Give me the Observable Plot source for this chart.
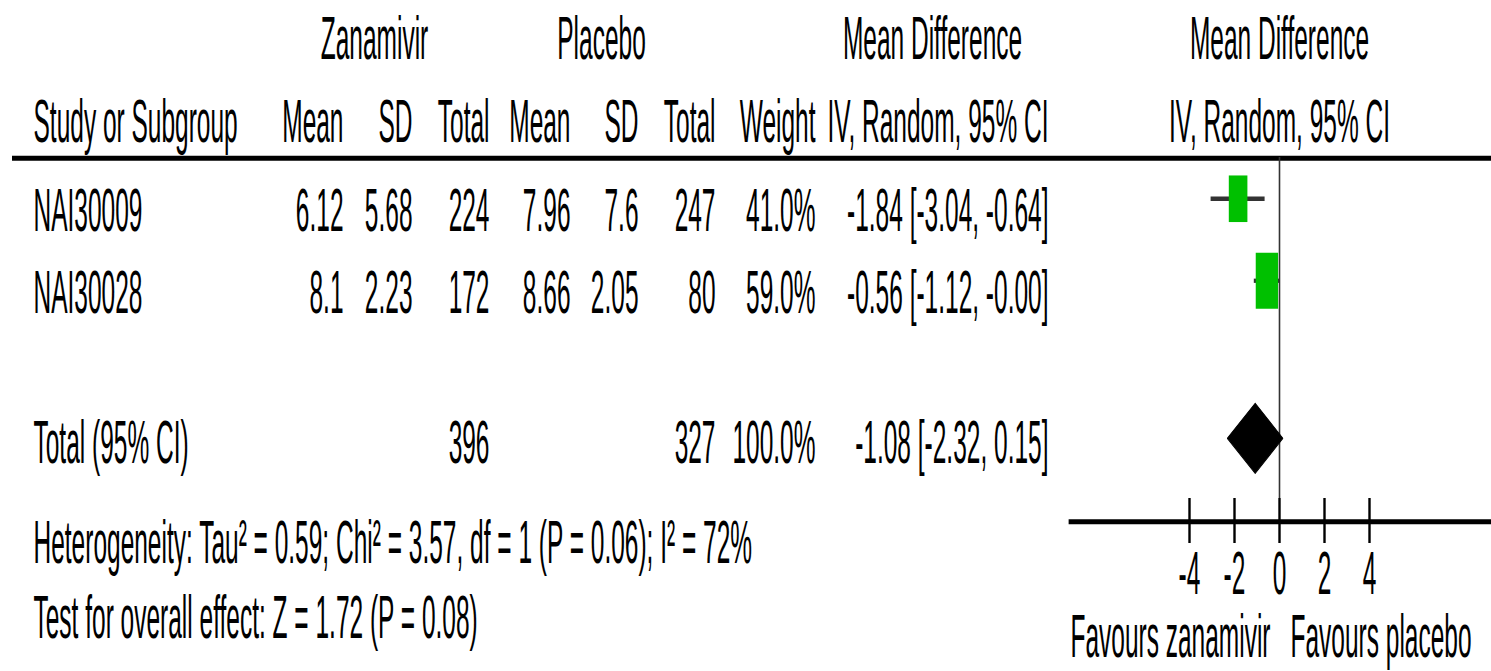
<!DOCTYPE html>
<html><head><meta charset="utf-8">
<script src="https://cdn.jsdelivr.net/npm/d3@7"></script>
<script src="https://cdn.jsdelivr.net/npm/@observablehq/plot@0.6"></script>
<style>html,body{margin:0;padding:0;background:#fff;} #chart{width:1491px;height:671px;overflow:hidden;}</style>
</head><body><div id="chart"></div>
<script>
// ---------- data ----------
const studies = ["NAI30009", "NAI30028"];
const zanMean = [6.12, 8.1];
const zanSD = [5.68, 2.23];
const zanTotal = [224, 172];
const plaMean = [7.96, 8.66];
const plaSD = [7.6, 2.05];
const plaTotal = [247, 80];
const weights = [41.0, 59.0];
const meanDiff = [-1.84, -0.56];
const ciLower = [-3.04, -1.12];
const ciUpper = [-0.64, -0.00];
const totalLabel = "Total (95% CI)";
const totalZan = 396;
const totalPla = 327;
const totalWeight = 100.0;
const totalMD = -1.08;
const totalLower = -2.32;
const totalUpper = 0.15;
const groupHeaders = ["Zanamivir", "Placebo", "Mean Difference"];
const columnHeaders = ["Study or Subgroup", "Mean", "SD", "Total", "Mean", "SD", "Total", "Weight", "IV, Random, 95% CI"];
const forestHeaders = ["Mean Difference", "IV, Random, 95% CI"];
const heterogeneity = "Heterogeneity: Tau² = 0.59; Chi² = 3.57, df = 1 (P = 0.06); I² = 72%";
const overallEffect = "Test for overall effect: Z = 1.72 (P = 0.08)";
const axisTicks = [-4, -2, 0, 2, 4];
const favoursLabels = ["Favours zanamivir", "Favours placebo"];

// ---------- layout ----------
const W = 1491, H = 671, H0 = 268, S = H / H0;
const ML = 12;
const colX = [33, 343, 412, 489, 570, 638, 715, 815, 1048]; // first: left edge, others: right edges
const groupX = [374, 601, 932];
const R = {header1: -2.10, header2: -1.085, rule: -0.89, total: 2.83, tickTop: 3.268, axis: 3.543,
           tickBottom: 3.817, het: 4.049, tickLabel: 4.427, test: 4.963, favours: 5.19};
const markerDy = -32.5 / S;
const diamondDy = -25 / S;
const diamondHalf = 0.427;

const font = {fontFamily: "'Liberation Sans', Arial, sans-serif", fontSize: 24.5, fill: "#000", lineAnchor: "bottom"};
const at = (px, anchor) => ({frameAnchor: "left", dx: px - ML, textAnchor: anchor});

const fmt2 = v => (v < 0 || Object.is(v, -0) ? "-" : "") + Math.abs(v).toFixed(2);
const ciText = (m, l, u) => `${fmt2(m)} [${fmt2(l)}, ${fmt2(u)}]`;
const pct = v => v.toFixed(1) + "%";

const rows = studies.map((name, i) => ({
  name, i,
  cells: [name, String(zanMean[i]), String(zanSD[i]), String(zanTotal[i]), String(plaMean[i]),
          String(plaSD[i]), String(plaTotal[i]), pct(weights[i]), ciText(meanDiff[i], ciLower[i], ciUpper[i])],
  md: meanDiff[i], lo: ciLower[i], hi: ciUpper[i], w: weights[i]
}));

const totalCells = [[0, totalLabel], [3, String(totalZan)], [6, String(totalPla)], [7, pct(totalWeight)],
                    [8, ciText(totalMD, totalLower, totalUpper)]];

const diamond = [
  {x: totalLower, y: R.total},
  {x: totalMD, y: R.total - diamondHalf},
  {x: totalUpper, y: R.total},
  {x: totalMD, y: R.total + diamondHalf}
];

const marks = [];
// top rule
marks.push(Plot.ruleY([R.rule], {stroke: "#000", strokeWidth: 2}));
// zero line
marks.push(Plot.ruleX([0], {y1: R.rule, y2: R.tickTop, stroke: "#333", strokeWidth: 1.6}));
// group headers
groupHeaders.forEach((t, k) => marks.push(Plot.text([t], {y: R.header1, ...at(groupX[k], "middle"), ...font})));
// column headers
columnHeaders.forEach((t, c) => marks.push(Plot.text([t], {y: R.header2, ...at(colX[c], c === 0 ? "start" : "end"), ...font})));
// forest headers
marks.push(Plot.text([forestHeaders[0]], {x: 0, y: R.header1, textAnchor: "middle", ...font}));
marks.push(Plot.text([forestHeaders[1]], {x: 0, y: R.header2, textAnchor: "middle", ...font}));
// study rows
columnHeaders.forEach((_, c) => marks.push(Plot.text(rows, {y: "i", text: d => d.cells[c], ...at(colX[c], c === 0 ? "start" : "end"), ...font})));
// total row
totalCells.forEach(([c, t]) => marks.push(Plot.text([t], {y: R.total, ...at(colX[c], c === 0 ? "start" : "end"), ...font})));
// CI lines and boxes
marks.push(Plot.ruleY(rows, {y: "i", x1: "lo", x2: "hi", dy: markerDy, stroke: "#333", strokeWidth: 1.7}));
marks.push(Plot.dot(rows, {x: "md", y: "i", r: "w", symbol: "square", fill: "#00c000", stroke: "none", dy: markerDy}));
// diamond
marks.push(Plot.line(diamond, {x: "x", y: "y", curve: "linear-closed", fill: "#000", stroke: "#000", strokeWidth: 0.6, dy: diamondDy}));
// axis
marks.push(Plot.ruleY([R.axis], {x1: -9.35, x2: 9.5, stroke: "#000", strokeWidth: 2}));
marks.push(Plot.ruleX(axisTicks, {x: d => d, y1: R.tickTop, y2: R.tickBottom, stroke: "#000", strokeWidth: 2.4}));
marks.push(Plot.text(axisTicks, {x: d => d, y: R.tickLabel, text: d => String(d), textAnchor: "middle", ...font}));
marks.push(Plot.text([favoursLabels[0]], {x: 0, y: R.favours, dx: -9, textAnchor: "end", ...font}));
marks.push(Plot.text([favoursLabels[1]], {x: 0, y: R.favours, dx: 11, textAnchor: "start", ...font}));
// footnotes
marks.push(Plot.text([heterogeneity], {y: R.het, ...at(colX[0], "start"), ...font}));
marks.push(Plot.text([overallEffect], {y: R.test, ...at(colX[0], "start"), ...font}));

const svg = Plot.plot({
  width: W, height: H0,
  marginLeft: ML, marginRight: 0, marginTop: 0, marginBottom: 0,
  x: {domain: [-4, 4], range: [1189, 1369], axis: null},
  y: {domain: [0, 1], range: [230 / S, 312 / S], axis: null},
  r: {type: "sqrt", domain: [0, 100], range: [0, 16.4]},
  style: {background: "#fff"},
  marks
});
svg.setAttribute("height", H);
svg.setAttribute("preserveAspectRatio", "none");
svg.style.height = H + "px";
svg.style.width = W + "px";
svg.style.maxWidth = "none";
document.getElementById("chart").appendChild(svg);
</script></body></html>
